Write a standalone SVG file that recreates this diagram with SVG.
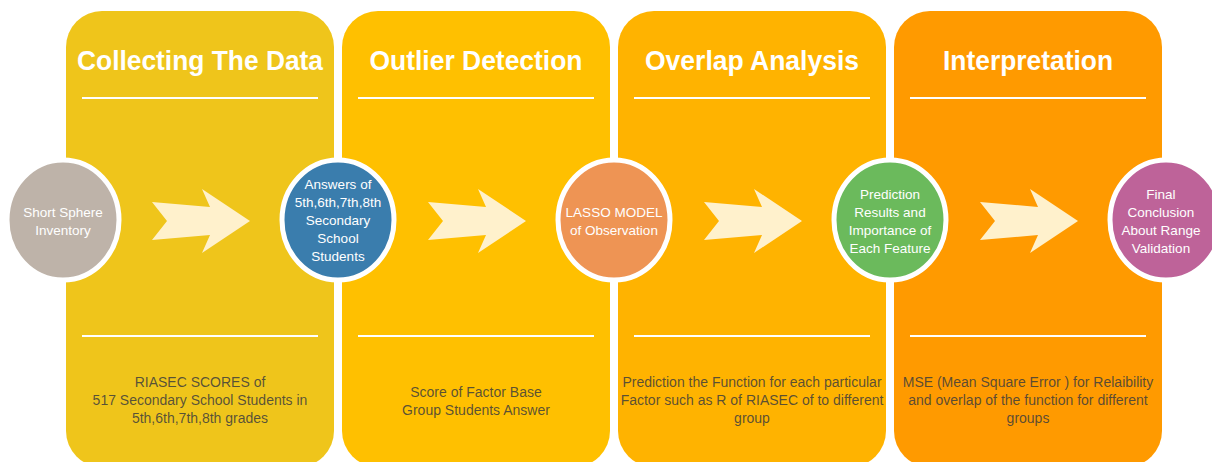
<svg xmlns="http://www.w3.org/2000/svg" width="1212" height="462" viewBox="0 0 1212 462">
<style>
.title{font-family:"Liberation Sans",Arial,sans-serif;font-weight:bold;font-size:27px;fill:#ffffff;text-anchor:middle}
.div{stroke:#ffffff;stroke-width:2}
.ctext{font-family:"Liberation Sans",Arial,sans-serif;font-size:13.5px;fill:#ffffff;text-anchor:middle}
.btext{font-family:"Liberation Sans",Arial,sans-serif;font-size:14px;fill:#3d3d3d;fill-opacity:0.85;text-anchor:middle}
.node{stroke:#ffffff;stroke-width:5}
.arrow{fill:#FFF1CC}
</style>
<defs>
<polygon id="arr" points="152,202 210,207 202,189 250,221 202,253 210,235 152,240 167,221"/>
</defs>
<rect width="1212" height="462" fill="#ffffff"/>
<g id="panel1">
<rect x="66" y="11" width="268" height="456" rx="36" fill="#EFC51B"/>
<text class="title" x="200" y="70" textLength="246" lengthAdjust="spacingAndGlyphs">Collecting The Data</text>
<line class="div" x1="82" y1="98" x2="318" y2="98"/>
<line class="div" x1="82" y1="336" x2="318" y2="336"/>
<text class="btext" x="200" y="387">RIASEC SCORES of</text>
<text class="btext" x="200" y="405">517 Secondary School Students in</text>
<text class="btext" x="200" y="423">5th,6th,7th,8th grades</text>
</g>
<g id="panel2">
<rect x="342" y="11" width="268" height="456" rx="36" fill="#FFC000"/>
<text class="title" x="476" y="70" textLength="213" lengthAdjust="spacingAndGlyphs">Outlier Detection</text>
<line class="div" x1="358" y1="98" x2="594" y2="98"/>
<line class="div" x1="358" y1="336" x2="594" y2="336"/>
<text class="btext" x="476" y="397">Score of Factor Base</text>
<text class="btext" x="476" y="415">Group Students Answer</text>
</g>
<g id="panel3">
<rect x="618" y="11" width="268" height="456" rx="36" fill="#FFB300"/>
<text class="title" x="752" y="70" textLength="214" lengthAdjust="spacingAndGlyphs">Overlap Analysis</text>
<line class="div" x1="634" y1="98" x2="870" y2="98"/>
<line class="div" x1="634" y1="336" x2="870" y2="336"/>
<text class="btext" x="752" y="387">Prediction the Function for each particular</text>
<text class="btext" x="752" y="405">Factor such as R of RIASEC of to different</text>
<text class="btext" x="752" y="423">group</text>
</g>
<g id="panel4">
<rect x="894" y="11" width="268" height="456" rx="36" fill="#FF9A00"/>
<text class="title" x="1028" y="70" textLength="170" lengthAdjust="spacingAndGlyphs">Interpretation</text>
<line class="div" x1="910" y1="98" x2="1146" y2="98"/>
<line class="div" x1="910" y1="336" x2="1146" y2="336"/>
<text class="btext" x="1028" y="387">MSE (Mean Square Error ) for Relaibility</text>
<text class="btext" x="1028" y="405">and overlap of the function for different</text>
<text class="btext" x="1028" y="423">groups</text>
</g>
<g id="connectors">
<use href="#arr" class="arrow"/>
<use href="#arr" class="arrow" x="276"/>
<use href="#arr" class="arrow" x="552"/>
<use href="#arr" class="arrow" x="828"/>
</g>
<g id="node1">
<ellipse class="node" cx="63" cy="220" rx="56" ry="60" fill="#BEB3A9"/>
<text class="ctext" x="63" y="217">Short Sphere</text>
<text class="ctext" x="63" y="235">Inventory</text>
</g>
<g id="node2">
<ellipse class="node" cx="338" cy="220" rx="56" ry="60" fill="#3A7DAD"/>
<text class="ctext" x="338" y="189">Answers of</text>
<text class="ctext" x="338" y="207">5th,6th,7th,8th</text>
<text class="ctext" x="338" y="225">Secondary</text>
<text class="ctext" x="338" y="243">School</text>
<text class="ctext" x="338" y="261">Students</text>
</g>
<g id="node3">
<ellipse class="node" cx="614" cy="220" rx="56" ry="60" fill="#EE9454"/>
<text class="ctext" x="614" y="217">LASSO MODEL</text>
<text class="ctext" x="614" y="235">of Observation</text>
</g>
<g id="node4">
<ellipse class="node" cx="890" cy="220" rx="56" ry="60" fill="#6BBA5C"/>
<text class="ctext" x="890" y="199">Prediction</text>
<text class="ctext" x="890" y="217">Results and</text>
<text class="ctext" x="890" y="235">Importance of</text>
<text class="ctext" x="890" y="253">Each Feature</text>
</g>
<g id="node5">
<ellipse class="node" cx="1166" cy="220" rx="56" ry="60" fill="#BE6399"/>
<text class="ctext" x="1161" y="199">Final</text>
<text class="ctext" x="1161" y="217">Conclusion</text>
<text class="ctext" x="1161" y="235">About Range</text>
<text class="ctext" x="1161" y="253">Validation</text>
</g>
</svg>
